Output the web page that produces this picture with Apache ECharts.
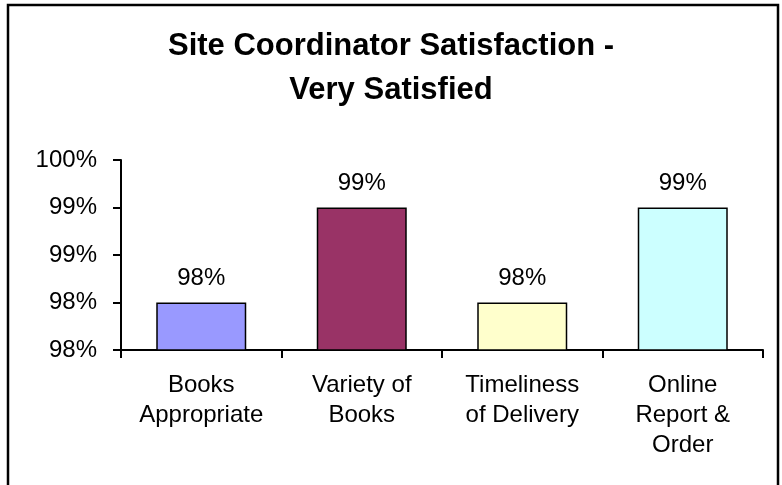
<!DOCTYPE html>
<html>
<head>
<meta charset="utf-8">
<script src="https://cdn.jsdelivr.net/npm/echarts@6/dist/echarts.min.js"></script>
<style>
html,body{margin:0;padding:0;background:#fff;}
#chart{width:782px;height:485px;}
</style>
</head>
<body>
<div id="chart"></div>
<script>
var categories = ['Books\nAppropriate', 'Variety of\nBooks', 'Timeliness\nof Delivery', 'Online\nReport &\nOrder'];
var values = [98.0, 99.0, 98.0, 99.0];
var barColors = ['#9999FF', '#993366', '#FFFFCC', '#CCFFFF'];
var titleText = 'Site Coordinator Satisfaction -\nVery Satisfied';
var yMin = 97.5, yMax = 99.5, yStep = 0.5;

var FONT = '"Liberation Sans", Arial, Helvetica, sans-serif';
var chart = echarts.init(document.getElementById('chart'), null, {renderer: 'canvas'});
chart.setOption({
  backgroundColor: '#ffffff',
  animation: false,
  title: {
    text: titleText,
    left: 'center',
    top: 19,
    textStyle: {fontFamily: FONT, fontSize: 31, fontWeight: 'bold', color: '#000', lineHeight: 44}
  },
  graphic: [{
    type: 'rect',
    shape: {x: 8, y: 5, width: 770, height: 500},
    style: {fill: 'none', stroke: '#000', lineWidth: 2.5},
    silent: true
  }],
  grid: {left: 121, right: 19, top: 160, bottom: 135, containLabel: false},
  xAxis: {
    type: 'category',
    data: categories,
    axisLine: {lineStyle: {color: '#000', width: 2}},
    axisTick: {show: true, length: 8, lineStyle: {color: '#000', width: 2}},
    axisLabel: {color: '#000', fontFamily: FONT, fontSize: 24, lineHeight: 30, margin: 20, interval: 0}
  },
  yAxis: {
    type: 'value',
    min: yMin, max: yMax, interval: yStep,
    axisLine: {show: true, lineStyle: {color: '#000', width: 2}},
    axisTick: {show: true, length: 8, lineStyle: {color: '#000', width: 2}},
    splitLine: {show: false},
    axisLabel: {color: '#000', fontFamily: FONT, fontSize: 24, margin: 24,
      formatter: function (v) { return Math.round(v) + '%'; }}
  },
  series: [{
    type: 'bar',
    barWidth: 90,
    data: values.map(function (v, i) {
      return {value: v, itemStyle: {color: barColors[i], borderColor: '#000', borderWidth: 1.5}};
    }),
    label: {
      show: true, position: 'top', distance: 12,
      color: '#000', fontFamily: FONT, fontSize: 24,
      formatter: function (p) { return Math.round(p.value) + '%'; }
    }
  }]
});
</script>
</body>
</html>
